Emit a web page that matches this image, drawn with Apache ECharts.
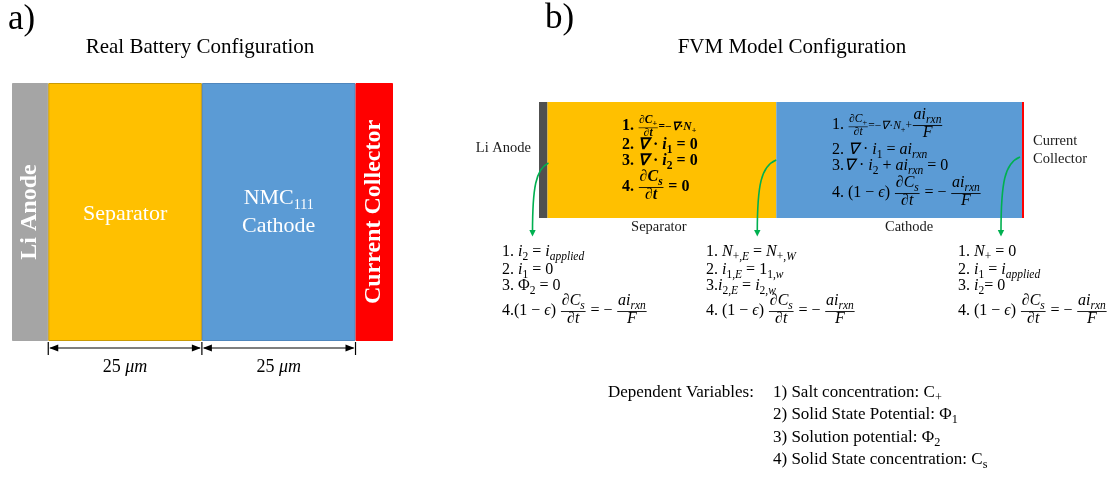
<!DOCTYPE html>
<html>
<head>
<meta charset="utf-8">
<script src="https://cdn.jsdelivr.net/npm/echarts@6/dist/echarts.min.js"></script>
<style>
  html, body { margin: 0; padding: 0; background: #fff; }
  #chart { width: 1115px; height: 477px; }
</style>
</head>
<body>
<div id="chart"></div>
<script>
// ---- data -------------------------------------------------------------
// a) real cell: layer thicknesses in µm (electrode/collector drawn schematically)
const cellLayers = ['Li Anode', 'Separator', 'NMC111 Cathode', 'Current Collector'];
const cellThickness = [5.9, 25, 25, 6.1];
const dimensionLabels = ['25', '25'];
const dimensionUnit = 'μm';

// b) finite-volume model domain
const fvmLayers = ['Li Anode', 'Separator', 'Cathode', 'Current Collector'];
const fvmThickness = [0.93, 25, 26.85, 0.22];

const dependentLead = 'Dependent Variables:';
const dependentVariables = ['1) Salt concentration: ', '2) Solid State Potential: ', '3) Solution potential: ', '4) Solid State concentration: '];
const dependentSymbols = [['C', '+'], ['Φ', '1'], ['Φ', '2'], ['C', 's']];

// ---- styles -----------------------------------------------------------
const SERIF = '"Liberation Serif", "Times New Roman", serif';
const cellColors = ['#a5a5a5', '#ffc000', '#5b9bd5', '#ff0000'];
const cellBorders = ['#a5a5a5', '#c99a06', '#4f86bd', '#ff0000'];
const fvmColors = ['#505050', '#ffc000', '#5b9bd5', '#ff0000'];
const ARROW_GREEN = '#00b050';
const TOP = 100;   // graphic overlay z

const sum = a => a.reduce((s, v) => s + v, 0);
const cumulative = a => a.reduce((acc, v) => { acc.push((acc.length ? acc[acc.length - 1] : 0) + v); return acc; }, []);

const chart = echarts.init(document.getElementById('chart'), null, { renderer: 'canvas' });

function layerSeries(names, values, colors, borders, stack, axis, labels) {
  return names.map((n, i) => ({
    type: 'bar', name: n, stack, xAxisIndex: axis, yAxisIndex: axis,
    barWidth: '100%', silent: true,
    data: [values[i]],
    itemStyle: { color: colors[i], borderColor: borders ? borders[i] : colors[i], borderWidth: borders ? 1 : 0 },
    label: labels[i]
  }));
}

const whiteBig = { color: '#fff', fontFamily: SERIF };
const cellLabels = [
  Object.assign({ show: true, position: 'inside', rotate: 90, formatter: 'Li Anode', fontSize: 24, fontWeight: 'bold' }, whiteBig),
  Object.assign({ show: true, position: 'inside', offset: [0, 2], formatter: 'Separator', fontSize: 22 }, whiteBig),
  {
    show: true, position: 'inside', formatter: '{a|NMC}{s|111}\n{a|Cathode}',
    rich: {
      a: { color: '#fff', fontFamily: SERIF, fontSize: 22, lineHeight: 28 },
      s: { color: '#fff', fontFamily: SERIF, fontSize: 14, lineHeight: 14, verticalAlign: 'bottom' }
    }
  },
  Object.assign({ show: true, position: 'inside', rotate: 90, formatter: 'Current Collector', fontSize: 24, fontWeight: 'bold' }, whiteBig)
];
const darkSmall = { color: '#1a1a1a', fontFamily: SERIF, fontSize: 14.5 };
const fvmLabels = [
  Object.assign({ show: true, position: 'left', distance: 8, offset: [0, -12], formatter: 'Li Anode' }, darkSmall),
  Object.assign({ show: true, position: 'bottom', distance: 2, offset: [-3, 0], formatter: 'Separator' }, darkSmall),
  Object.assign({ show: true, position: 'bottom', distance: 2, offset: [10, 0], formatter: 'Cathode' }, darkSmall),
  Object.assign({ show: true, position: 'right', distance: 8, offset: [1, -10], formatter: 'Current\nCollector', align: 'left', lineHeight: 18 }, darkSmall)
];

chart.setOption({
  animation: false,
  backgroundColor: '#fff',
  grid: [
    { left: 12, top: 83, width: 381, height: 258 },
    { left: 539, top: 102, width: 485, height: 116 }
  ],
  xAxis: [
    { type: 'value', gridIndex: 0, min: 0, max: sum(cellThickness), show: false },
    { type: 'value', gridIndex: 1, min: 0, max: sum(fvmThickness), show: false }
  ],
  yAxis: [
    { type: 'category', gridIndex: 0, data: ['cell'], show: false },
    { type: 'category', gridIndex: 1, data: ['cell'], show: false }
  ],
  series: [].concat(
    layerSeries(cellLayers, cellThickness, cellColors, cellBorders, 'real', 0, cellLabels),
    layerSeries(fvmLayers, fvmThickness, fvmColors, null, 'fvm', 1, fvmLabels)
  )
});

// ---- small math typesetter (text + fraction bars) ----------------------
const meas = document.createElement('canvas').getContext('2d');
function fnt(sz, it, bd) { return (it ? 'italic ' : '') + (bd ? 'bold ' : '') + sz.toFixed(2) + 'px ' + SERIF; }
const I = s => ({ s, it: 1 });
const S = (...t) => ({ sub: t });
const F = (n, d) => ({ frac: [n, d] });
const Z = (k, ...t) => ({ k, t });

function lay(toks, sz, bd) {
  const els = [];
  let x = 0, up = sz * 0.7, dn = sz * 0.2;
  const put = (r, dx, dy) => r.els.forEach(e => els.push(Object.assign({}, e, { x: e.x + dx, y: e.y + dy })));
  for (const t of toks) {
    if (typeof t === 'string' || t.s !== undefined) {
      const s = typeof t === 'string' ? t : t.s;
      const f = fnt(sz, t.it, bd);
      meas.font = f;
      els.push({ x, y: 0, s, f, sz });
      x += meas.measureText(s).width;
    } else if (t.sub) {
      const r = lay(t.sub, sz * 0.72, bd), sh = sz * 0.22;
      put(r, x, sh); x += r.w; dn = Math.max(dn, r.dn + sh);
    } else if (t.k) {
      const r = lay(t.t, sz * t.k, bd);
      put(r, x, 0); x += r.w; up = Math.max(up, r.up); dn = Math.max(dn, r.dn);
    } else if (t.frac) {
      const n = lay(t.frac[0], sz, bd), d = lay(t.frac[1], sz, bd);
      const pad = sz * 0.1, w = Math.max(n.w, d.w) + 2 * pad;
      const ax = -sz * 0.28, gap = sz * 0.08;
      const numBase = ax - gap - Math.max(sz * 0.2, n.dn - sz * 0.12);
      const denBase = ax + gap + d.up;
      put(n, x + (w - n.w) / 2, numBase);
      put(d, x + (w - d.w) / 2, denBase);
      els.push({ ln: 1, x: x + pad * 0.5, y: ax, w: w - pad, lw: Math.max(0.6, sz * 0.055) });
      up = Math.max(up, -numBase + n.up);
      dn = Math.max(dn, denBase + d.dn);
      x += w;
    }
  }
  return { els, w: x, up, dn };
}

const gfx = [];
function emit(toks, x0, base, sz, bd, color) {
  const r = lay(toks, sz, bd);
  r.els.forEach(e => {
    if (e.ln) {
      gfx.push({ type: 'line', silent: true, z: TOP,
        shape: { x1: x0 + e.x, y1: base + e.y, x2: x0 + e.x + e.w, y2: base + e.y },
        style: { stroke: color || '#000', lineWidth: e.lw } });
    } else {
      gfx.push({ type: 'text', silent: true, z: TOP, x: x0 + e.x, y: base + e.y - e.sz * 0.34,
        style: { text: e.s, font: e.f, fill: color || '#000',
                 textAlign: 'left', align: 'left', textVerticalAlign: 'middle', verticalAlign: 'middle' } });
    }
  });
  return r.w;
}
function plainText(text, x, y, size, align) {
  gfx.push({ type: 'text', silent: true, z: TOP, x, y,
    style: { text, font: size + 'px ' + SERIF, fill: '#000',
      textAlign: align, align, textVerticalAlign: 'middle', verticalAlign: 'middle' } });
}

// common pieces
const dCsdt = F(['∂', I('C'), S(I('s'))], ['∂', I('t')]);
const airxnF = F([I('a'), I('i'), S(I('rxn'))], [I('F')]);
const storage = ['(1 − ', I('ϵ'), ') ', dCsdt, ' = − ', airxnF];
const dCpdt = F(['∂', I('C'), S('+')], ['∂', I('t')]);

// ---- panel titles -------------------------------------------------------
plainText('a)', 8, 20, 35, 'left');
plainText('b)', 545, 19, 35, 'left');
plainText('Real Battery Configuration', 200, 47, 21, 'center');
plainText('FVM Model Configuration', 792, 47, 21, 'center');

// ---- governing equations inside the domains ---------------------------
const sepEq = [
  ['1. ', Z(0.72, dCpdt, '=−', I('∇'), '·', I('N'), S('+'))],
  ['2. ', I('∇'), ' · ', I('i'), S('1'), ' = 0'],
  ['3. ', I('∇'), ' · ', I('i'), S('2'), ' = 0'],
  ['4. ', dCsdt, ' = 0']
];
[131, 150, 166, 192].forEach((b, i) => emit(sepEq[i], 622, b, 16, true));

const catEq = [
  ['1. ', Z(0.72, dCpdt, '=−', I('∇'), '·', I('N'), S('+'), '+'), airxnF],
  ['2. ', I('∇'), ' · ', I('i'), S('1'), ' = ', I('a'), I('i'), S(I('rxn'))],
  ['3.', I('∇'), ' · ', I('i'), S('2'), ' + ', I('a'), I('i'), S(I('rxn')), ' = 0'],
  ['4. '].concat(storage)
];
[130, 155, 171, 198].forEach((b, i) => emit(catEq[i], 832, b, 16, false));

// ---- boundary conditions ------------------------------------------------
const bcLeft = [
  ['1. ', I('i'), S('2'), ' = ', I('i'), S(I('applied'))],
  ['2. ', I('i'), S('1'), ' = 0'],
  ['3. Φ', S('2'), ' = 0'],
  ['4.'].concat(storage)
];
const bcMid = [
  ['1. ', I('N'), S('+,', I('E')), ' = ', I('N'), S('+,', I('W'))],
  ['2. ', I('i'), S('1,', I('E')), ' = 1', S('1,', I('w'))],
  ['3.', I('i'), S('2,', I('E')), ' = ', I('i'), S('2,', I('w'))],
  ['4. '].concat(storage)
];
const bcRight = [
  ['1. ', I('N'), S('+'), ' = 0'],
  ['2. ', I('i'), S('1'), ' = ', I('i'), S(I('applied'))],
  ['3. ', I('i'), S('2'), '= 0'],
  ['4. '].concat(storage)
];
const bcBase = [257, 275, 291, 316];
bcBase.forEach((b, i) => emit(bcLeft[i], 502, b, 16, false));
bcBase.forEach((b, i) => emit(bcMid[i], 706, b, 16, false));
bcBase.forEach((b, i) => emit(bcRight[i], 958, b, 16, false));

// ---- dependent variables list --------------------------------------------
const leadX = 608, listX = 773;
emit([dependentLead], leadX, 398, 17, false);
[398, 420, 443, 465].forEach((b, i) => {
  const sym = dependentSymbols[i];
  emit([dependentVariables[i], sym[0], S(sym[1])], listX, b, 17, false);
});

// ---- geometry derived from the layer scales -----------------------------
const cellEdges = cumulative(cellThickness);
const fvmEdges = cumulative(fvmThickness);
const ax0 = v => chart.convertToPixel({ xAxisIndex: 0 }, v);
const ax1 = v => chart.convertToPixel({ xAxisIndex: 1 }, v);

// thickness dimension lines under the separator and cathode
const dimY = 348;
[0, 1, 2].forEach(i => {
  const x = ax0(cellEdges[i]);
  gfx.push({ type: 'line', silent: true, z: TOP, shape: { x1: x, y1: 342, x2: x, y2: 355 }, style: { stroke: '#000', lineWidth: 1.2 } });
});
[0, 1].forEach(i => {
  const xa = ax0(cellEdges[i]), xb = ax0(cellEdges[i + 1]);
  gfx.push({ type: 'line', silent: true, z: TOP, shape: { x1: xa + 2, y1: dimY, x2: xb - 2, y2: dimY }, style: { stroke: '#000', lineWidth: 1.2 } });
  gfx.push({ type: 'polygon', silent: true, z: TOP, shape: { points: [[xa + 1, dimY], [xa + 10, dimY - 3.5], [xa + 10, dimY + 3.5]] }, style: { fill: '#000' } });
  gfx.push({ type: 'polygon', silent: true, z: TOP, shape: { points: [[xb - 1, dimY], [xb - 10, dimY - 3.5], [xb - 10, dimY + 3.5]] }, style: { fill: '#000' } });
  meas.font = fnt(18, false, false);
  const w1 = meas.measureText(dimensionLabels[i] + ' ').width;
  meas.font = fnt(18, true, false);
  const w2 = meas.measureText(dimensionUnit).width;
  emit([dimensionLabels[i] + ' ', I(dimensionUnit)], (xa + xb) / 2 - (w1 + w2) / 2, 373, 18, false);
});

// green arrows from each boundary face down to its conditions
const arrowDefs = [
  { x: ax1(fvmEdges[0]) + 1, y0: 163, dx: -16 },
  { x: ax1(fvmEdges[1]), y0: 160, dx: -19 },
  { x: ax1(fvmEdges[2]) - 2, y0: 157, dx: -19 }
];
arrowDefs.forEach(a => {
  const ex = a.x + a.dx, ey = 236;
  gfx.push({ type: 'bezierCurve', silent: true, z: TOP,
    shape: { x1: a.x, y1: a.y0, cpx1: a.x + a.dx * 0.8, cpy1: a.y0 + 6, cpx2: ex, cpy2: a.y0 + 25, x2: ex, y2: ey - 4 },
    style: { stroke: ARROW_GREEN, lineWidth: 1.6, fill: null } });
  gfx.push({ type: 'polygon', silent: true, z: TOP, shape: { points: [[ex - 3.2, ey - 6], [ex + 3.2, ey - 6], [ex, ey + 0.5]] }, style: { fill: ARROW_GREEN } });
});

chart.setOption({ graphic: { elements: gfx } });
</script>
</body>
</html>
